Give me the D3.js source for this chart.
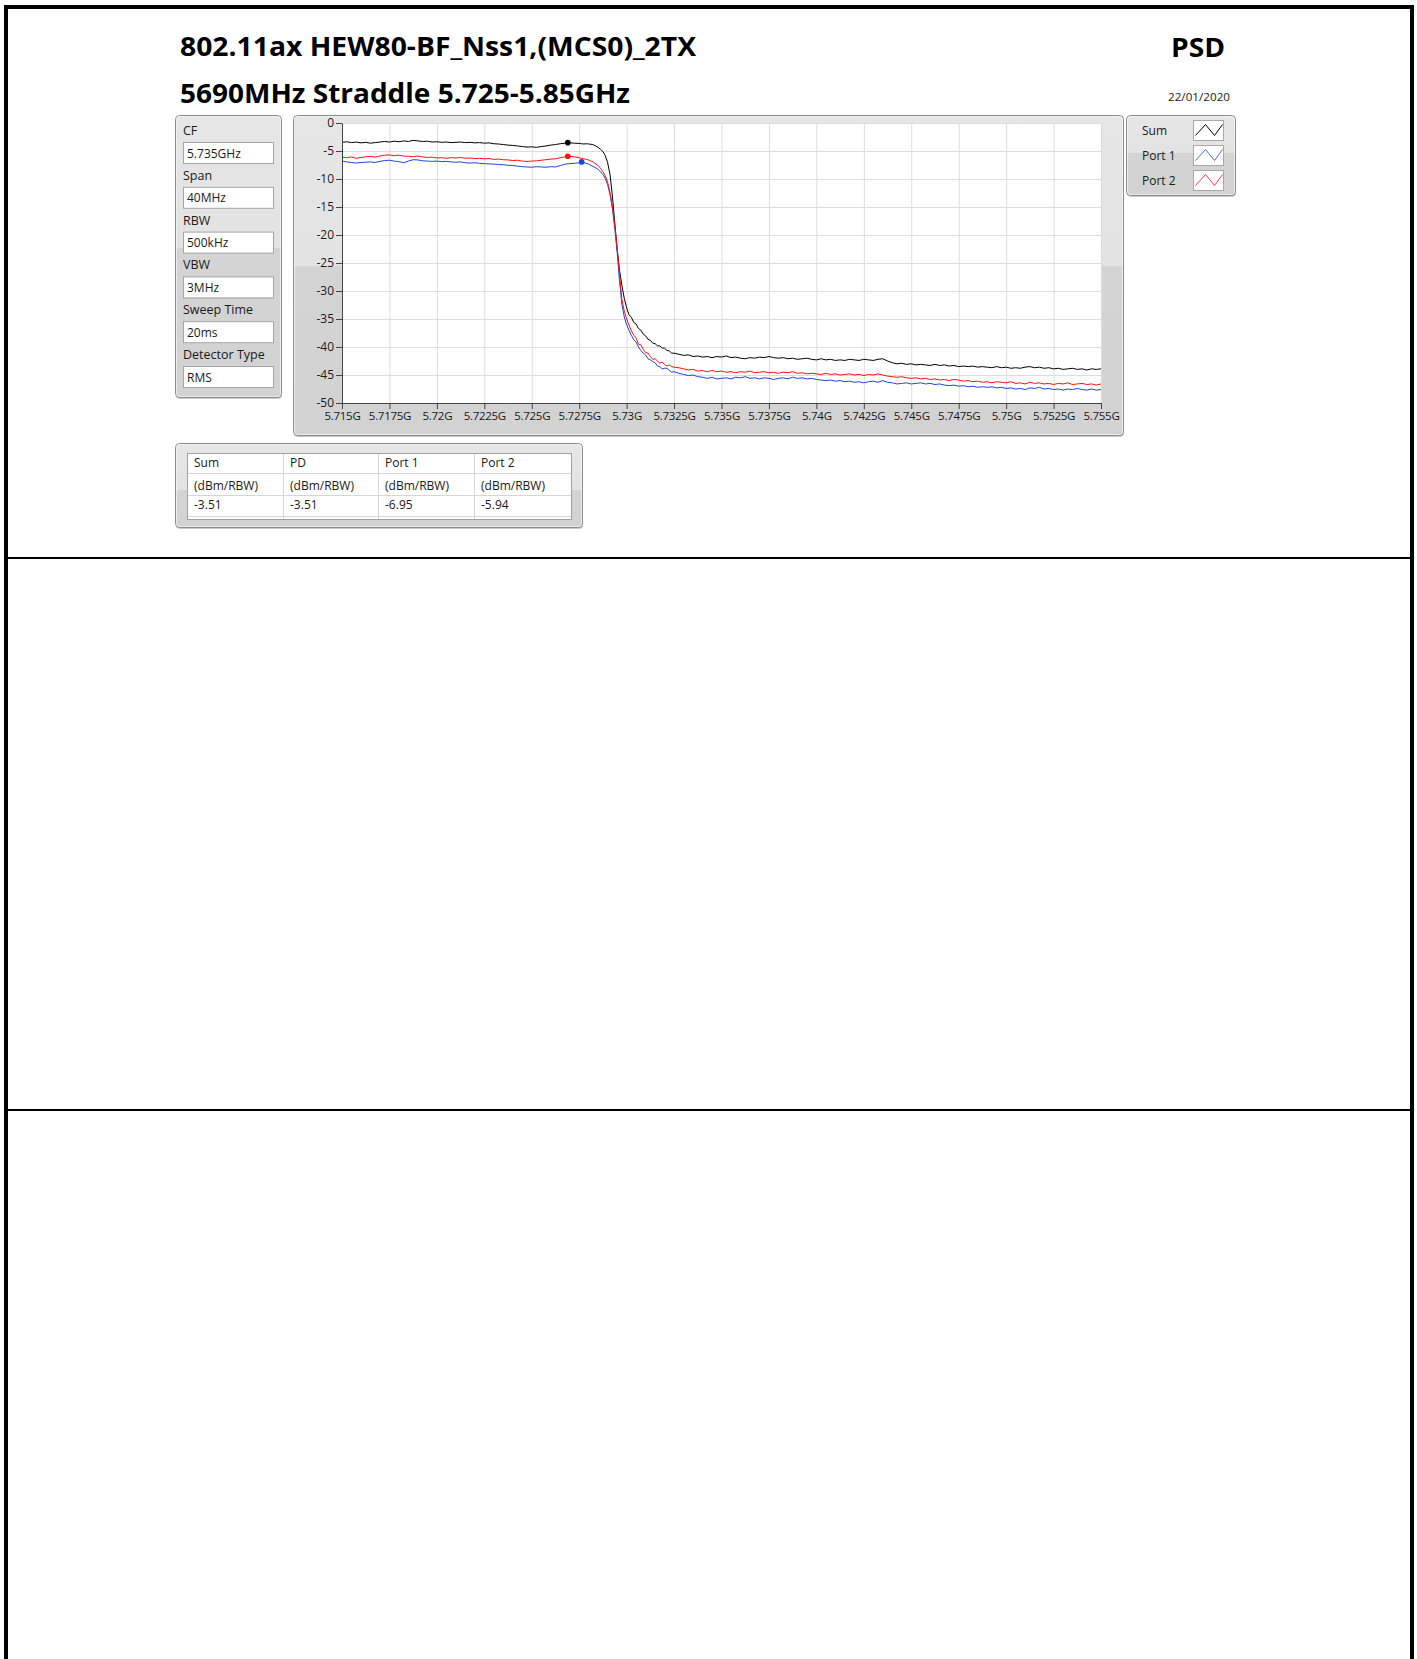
<!DOCTYPE html>
<html><head><meta charset="utf-8">
<script src="https://cdn.jsdelivr.net/npm/d3@7"></script>
<style>
body{margin:0;background:#fff;}
svg{display:block;font-family:"Open Sans","Noto Sans",sans-serif;}
</style>
</head><body>
<svg id="c" width="1417" height="1659"></svg>
<script>
// ---------------- DATA ----------------
const titleLine1 = "802.11ax HEW80-BF_Nss1,(MCS0)_2TX";
const titleLine2 = "5690MHz Straddle 5.725-5.85GHz";
const titleRight = "PSD";
const dateText = "22/01/2020";

const settingLabels = ["CF", "Span", "RBW", "VBW", "Sweep Time", "Detector Type"];
const settingValues = ["5.735GHz", "40MHz", "500kHz", "3MHz", "20ms", "RMS"];

const legendNames = ["Sum", "Port 1", "Port 2"];

const tableHeaders = ["Sum", "PD", "Port 1", "Port 2"];
const tableUnits = ["(dBm/RBW)", "(dBm/RBW)", "(dBm/RBW)", "(dBm/RBW)"];
const tableValues = ["-3.51", "-3.51", "-6.95", "-5.94"];

const startFreqMHz = 5715;
const xTickOffsetsMHz = [0, 2.5, 5, 7.5, 10, 12.5, 15, 17.5, 20, 22.5, 25, 27.5, 30, 32.5, 35, 37.5, 40];
const xTickLabels = ["5.715G", "5.7175G", "5.72G", "5.7225G", "5.725G", "5.7275G", "5.73G", "5.7325G", "5.735G",
  "5.7375G", "5.74G", "5.7425G", "5.745G", "5.7475G", "5.75G", "5.7525G", "5.755G"];
const yTicks = [0, -5, -10, -15, -20, -25, -30, -35, -40, -45, -50];
const yTickLabels = ["0", "-5", "-10", "-15", "-20", "-25", "-30", "-35", "-40", "-45", "-50"];

// frequency offsets (MHz from 5.715 GHz) of the read-off trace samples
const freqOffsetMHz = [
  0,0.25,0.5,0.75,1,1.25,1.5,1.75,2,2.25,2.5,2.75,3,3.25,3.5,3.75,4,4.25,4.5,4.75,
  5,5.25,5.5,5.75,6,6.25,6.5,6.75,7,7.25,7.5,7.75,8,8.25,8.5,8.75,9,9.25,9.5,9.75,
  10,10.25,10.5,10.75,11,11.25,11.5,11.75,12,12.25,12.5,
  12.625,12.75,12.875,13,13.125,13.25,13.375,13.5,13.625,13.75,
  13.875,14,14.125,14.25,14.375,14.5,14.625,14.75,14.875,15,
  15.125,15.25,15.375,15.5,15.625,15.75,15.875,16,16.125,16.25,
  16.375,16.5,16.625,16.75,16.875,17,17.125,17.25,17.375,17.5,
  17.75,18,18.25,18.5,18.75,19,19.25,19.5,19.75,20,
  20.25,20.5,20.75,21,21.25,21.5,21.75,22,22.25,22.5,
  22.75,23,23.25,23.5,23.75,24,24.25,24.5,24.75,25,
  25.25,25.5,25.75,26,26.25,26.5,26.75,27,27.25,27.5,
  27.75,28,28.25,28.5,28.75,29,29.25,29.5,29.75,30,
  30.25,30.5,30.75,31,31.25,31.5,31.75,32,32.25,32.5,
  32.75,33,33.25,33.5,33.75,34,34.25,34.5,34.75,35,
  35.25,35.5,35.75,36,36.25,36.5,36.75,37,37.25,37.5,
  37.75,38,38.25,38.5,38.75,39,39.25,39.5,39.75,40
];

const sumDb = [
  -3.45,-3.35,-3.5,-3.4,-3.55,-3.45,-3.6,-3.5,-3.4,-3.3,
  -3.4,-3.25,-3.35,-3.2,-3.3,-3.1,-3.2,-3.3,-3.25,-3.4,
  -3.35,-3.45,-3.4,-3.5,-3.45,-3.4,-3.5,-3.45,-3.55,-3.5,
  -3.6,-3.55,-3.7,-3.75,-3.85,-3.95,-4.0,-4.1,-4.2,-4.3,
  -4.25,-4.35,-4.2,-4.1,-3.95,-3.85,-3.7,-3.6,-3.55,-3.6,-3.65,
  -3.7,-3.75,-3.7,-3.75,-3.8,-3.9,-4.1,-4.35,-4.7,-5.1,
  -5.8,-7.1,-9.2,-13.0,-17.8,-22.5,-26.3,-29.0,-31.3,-33.0,
  -34.2,-34.7,-35.6,-35.9,-36.7,-37.0,-37.7,-38.0,-38.6,-38.8,
  -39.3,-39.4,-39.8,-39.8,-40.2,-40.2,-40.6,-40.7,-41.1,-41.1,
  -41.3,-41.5,-41.4,-41.7,-41.6,-41.8,-41.7,-41.9,-41.7,-41.8,
  -41.6,-41.9,-41.8,-42.0,-42.1,-41.9,-42.0,-41.8,-41.9,-41.7,
  -41.9,-42.0,-41.9,-42.1,-42.0,-42.2,-42.1,-42.0,-42.2,-42.3,
  -42.1,-42.3,-42.2,-42.4,-42.3,-42.4,-42.2,-42.3,-42.4,-42.2,
  -42.3,-42.4,-42.2,-42.1,-42.5,-42.8,-43.0,-42.9,-43.1,-43.0,
  -43.2,-43.1,-43.2,-43.3,-43.1,-43.3,-43.2,-43.4,-43.3,-43.5,
  -43.4,-43.5,-43.4,-43.6,-43.5,-43.6,-43.7,-43.5,-43.7,-43.6,
  -43.8,-43.7,-43.8,-43.6,-43.5,-43.7,-43.6,-43.8,-43.7,-43.9,
  -43.8,-44.0,-43.9,-43.8,-44.0,-43.9,-44.1,-43.9,-44.0,-43.9
];

const port1Db = [
  -6.8,-6.95,-7.05,-7.15,-7.05,-7.0,-6.95,-7.05,-6.85,-6.7,
  -6.65,-6.8,-6.9,-7.1,-6.8,-6.55,-6.6,-6.75,-6.8,-6.85,
  -6.8,-6.9,-6.85,-6.95,-7.0,-6.95,-7.1,-7.15,-7.1,-7.2,
  -7.25,-7.3,-7.35,-7.4,-7.45,-7.55,-7.6,-7.7,-7.8,-7.85,
  -7.9,-7.8,-7.85,-7.9,-7.8,-7.85,-7.6,-7.35,-7.25,-7.2,-7.1,
  -7.0,-7.1,-7.2,-7.35,-7.6,-7.8,-8.0,-8.3,-8.7,-9.2,
  -9.9,-11.0,-12.8,-15.3,-18.9,-23.0,-28.2,-32.4,-34.6,-36.0,
  -37.0,-37.9,-38.7,-39.1,-40.0,-40.6,-41.1,-41.4,-42.1,-42.3,
  -42.6,-42.8,-43.4,-43.5,-43.9,-43.8,-43.8,-44.2,-44.5,-44.4,
  -44.7,-44.9,-45.1,-45.0,-45.3,-45.4,-45.6,-45.4,-45.7,-45.6,
  -45.5,-45.7,-45.4,-45.5,-45.3,-45.6,-45.5,-45.7,-45.5,-45.6,
  -45.8,-45.6,-45.5,-45.7,-45.4,-45.6,-45.5,-45.7,-45.6,-45.8,
  -45.9,-46.0,-45.9,-46.1,-46.0,-46.2,-46.1,-46.3,-46.2,-46.4,
  -46.2,-46.1,-46.3,-46.0,-46.3,-46.4,-46.6,-46.5,-46.4,-46.6,
  -46.5,-46.4,-46.6,-46.5,-46.7,-46.6,-46.8,-46.9,-46.8,-47.0,
  -46.9,-47.1,-47.0,-47.2,-47.1,-47.2,-47.1,-47.3,-47.2,-47.4,
  -47.3,-47.5,-47.4,-47.6,-47.3,-47.4,-47.2,-47.5,-47.4,-47.6,
  -47.5,-47.7,-47.5,-47.6,-47.4,-47.6,-47.7,-47.5,-47.7,-47.6
];

const port2Db = [
  -6.1,-6.2,-6.05,-6.3,-6.15,-6.05,-5.95,-6.1,-5.9,-5.75,
  -5.7,-5.85,-5.75,-5.9,-5.95,-6.0,-5.9,-6.05,-6.15,-6.1,
  -6.25,-6.2,-6.3,-6.2,-6.25,-6.15,-6.3,-6.25,-6.35,-6.3,
  -6.4,-6.35,-6.5,-6.45,-6.55,-6.6,-6.7,-6.65,-6.8,-6.85,
  -6.8,-6.75,-6.65,-6.55,-6.45,-6.4,-6.2,-6.05,-5.95,-6.05,-6.2,
  -6.3,-6.4,-6.5,-6.6,-6.8,-7.0,-7.3,-7.6,-8.1,-8.7,
  -9.4,-10.6,-12.4,-14.8,-18.3,-22.2,-27.0,-31.5,-33.6,-35.0,
  -36.1,-37.1,-37.9,-38.4,-39.5,-39.6,-40.4,-41.0,-41.1,-41.7,
  -42.2,-42.1,-42.5,-42.9,-42.7,-43.1,-43.4,-43.2,-43.5,-43.6,
  -43.7,-43.9,-44.1,-44.0,-44.3,-44.2,-44.4,-44.2,-44.4,-44.3,
  -44.5,-44.4,-44.6,-44.4,-44.5,-44.3,-44.6,-44.5,-44.4,-44.6,
  -44.5,-44.7,-44.5,-44.6,-44.4,-44.7,-44.6,-44.8,-44.7,-44.8,
  -44.9,-44.7,-44.9,-44.8,-45.0,-44.9,-44.8,-45.0,-44.9,-45.1,
  -44.9,-45.0,-44.8,-45.0,-45.2,-45.3,-45.4,-45.3,-45.5,-45.6,
  -45.5,-45.7,-45.6,-45.8,-45.7,-45.9,-45.8,-46.0,-45.8,-45.9,
  -46.1,-46.0,-46.2,-46.1,-46.3,-46.2,-46.4,-46.2,-46.3,-46.4,
  -46.2,-46.5,-46.4,-46.6,-46.3,-46.5,-46.4,-46.6,-46.5,-46.7,
  -46.5,-46.6,-46.4,-46.7,-46.6,-46.5,-46.7,-46.6,-46.8,-46.6
];

// peak markers: Sum, Port 1, Port 2
const markerFreqOffsetMHz = [11.9, 12.63, 11.9];
const markerDb = [-3.51, -6.95, -5.94];

// ---------------- DRAWING ----------------
const seriesColors = ["#000000", "#1f45dc", "#ff1010"];
const legendColors = ["#000000", "#3f6fe6", "#ff3a3a"];
const svg = d3.select("#c");
const defs = svg.append("defs");
const TXT = "#1a1a1a";
const FONT = '"Open Sans","Noto Sans",sans-serif';

function panel(x, y, w, h, split, id) {
  const gr = defs.append("linearGradient").attr("id", id).attr("x1", 0).attr("y1", 0).attr("x2", 0).attr("y2", 1);
  gr.append("stop").attr("offset", 0).attr("stop-color", "#e6e6e6");
  gr.append("stop").attr("offset", split).attr("stop-color", "#e3e3e3");
  gr.append("stop").attr("offset", split).attr("stop-color", "#d4d4d4");
  gr.append("stop").attr("offset", 1).attr("stop-color", "#d2d2d2");
  svg.append("rect").attr("x", x + 1).attr("y", y + 2).attr("width", w).attr("height", h).attr("rx", 4)
    .attr("fill", "#c9c9c9");
  svg.append("rect").attr("x", x + 0.5).attr("y", y + 0.5).attr("width", w).attr("height", h).attr("rx", 4)
    .attr("fill", `url(#${id})`).attr("stroke", "#8c8c8c");
  svg.append("rect").attr("x", x + 1.5).attr("y", y + 1.5).attr("width", w - 2).attr("height", h - 2).attr("rx", 3)
    .attr("fill", "none").attr("stroke", "#f2f2f2").attr("stroke-opacity", 0.8);
}

// page frame
svg.append("rect").attr("x", 4).attr("y", 5).attr("width", 1410).attr("height", 4).attr("fill", "#000");
svg.append("rect").attr("x", 4).attr("y", 5).attr("width", 4).attr("height", 1654).attr("fill", "#000");
svg.append("rect").attr("x", 1410).attr("y", 5).attr("width", 4).attr("height", 1654).attr("fill", "#000");
svg.append("rect").attr("x", 8).attr("y", 557).attr("width", 1402).attr("height", 2).attr("fill", "#000");
svg.append("rect").attr("x", 8).attr("y", 1109).attr("width", 1402).attr("height", 2).attr("fill", "#000");

// titles
svg.append("text").attr("x", 180).attr("y", 56).attr("font-size", 26).attr("font-weight", 700)
  .attr("textLength", 516).attr("lengthAdjust", "spacingAndGlyphs").attr("fill", "#000").text(titleLine1);
svg.append("text").attr("x", 180).attr("y", 102.5).attr("font-size", 26).attr("font-weight", 700)
  .attr("textLength", 450).attr("lengthAdjust", "spacingAndGlyphs").attr("fill", "#000").text(titleLine2);
svg.append("text").attr("x", 1171).attr("y", 57).attr("font-size", 26).attr("font-weight", 700)
  .attr("textLength", 54).attr("lengthAdjust", "spacingAndGlyphs").attr("fill", "#000").text(titleRight);
svg.append("text").attr("x", 1168).attr("y", 101).attr("font-size", 11)
  .attr("textLength", 62).attr("lengthAdjust", "spacingAndGlyphs").attr("fill", TXT).text(dateText);

// settings panel
panel(175, 115, 106, 282, 0.47, "gSet");
settingLabels.forEach((lab, i) => {
  const y0 = 135 + i * 44.8;
  svg.append("text").attr("x", 183).attr("y", y0).attr("font-size", 12.5).attr("fill", TXT).text(lab);
  svg.append("rect").attr("x", 183.5).attr("y", y0 + 7.5).attr("width", 90).attr("height", 21)
    .attr("fill", "#fff").attr("stroke", "#a4a4a4");
  svg.append("text").attr("x", 187).attr("y", y0 + 22.5).attr("font-size", 12).attr("fill", TXT).text(settingValues[i]);
});

// chart panel
panel(293, 115, 830, 320, 0.47, "gChart");
const plotL = 342, plotR = 1101, plotT = 123, plotB = 403;
svg.append("rect").attr("x", plotL).attr("y", plotT).attr("width", plotR - plotL).attr("height", plotB - plotT).attr("fill", "#fff");

const x = d3.scaleLinear().domain([0, 40]).range([plotL, plotR]);
const y = d3.scaleLinear().domain([-50, 0]).range([plotB, plotT]);

// grid
svg.append("g").attr("transform", `translate(0,${plotB})`)
  .call(d3.axisBottom(x).tickValues(xTickOffsetsMHz).tickSize(-(plotB - plotT)).tickFormat(""))
  .call(g => { g.select(".domain").remove(); g.selectAll("line").attr("stroke", "#dcdcdc"); });
svg.append("g").attr("transform", `translate(${plotL},0)`)
  .call(d3.axisLeft(y).tickValues(yTicks).tickSize(-(plotR - plotL)).tickFormat(""))
  .call(g => { g.select(".domain").remove(); g.selectAll("line").attr("stroke", "#dcdcdc"); });

// traces
const clip = defs.append("clipPath").attr("id", "plotClip");
clip.append("rect").attr("x", plotL).attr("y", plotT).attr("width", plotR - plotL).attr("height", plotB - plotT);
const line = d3.line().x(d => x(d[0])).y(d => y(d[1]));
const series = [sumDb, port1Db, port2Db];
const gTr = svg.append("g").attr("clip-path", "url(#plotClip)");
series.forEach((vals, k) => {
  gTr.append("path").datum(freqOffsetMHz.map((f, i) => [f, vals[i]]))
    .attr("d", line).attr("fill", "none").attr("stroke", seriesColors[k]).attr("stroke-width", 1)
    .attr("stroke-linejoin", "round");
});
markerDb.forEach((v, k) => {
  gTr.append("circle").attr("cx", x(markerFreqOffsetMHz[k])).attr("cy", y(v)).attr("r", 2.8).attr("fill", seriesColors[k]);
});

// axes
const xAxis = svg.append("g").attr("transform", `translate(0,${plotB})`)
  .call(d3.axisBottom(x).tickValues(xTickOffsetsMHz).tickFormat((d, i) => xTickLabels[i]).tickSize(6).tickSizeOuter(0).tickPadding(3));
xAxis.select(".domain").attr("stroke", "#444");
xAxis.selectAll("line").attr("stroke", "#444");
xAxis.selectAll("text").attr("font-size", 11.5).attr("fill", TXT).attr("font-family", FONT)
  .attr("letter-spacing", -0.3);
const yAxis = svg.append("g").attr("transform", `translate(${plotL},0)`)
  .call(d3.axisLeft(y).tickValues(yTicks).tickFormat((d, i) => yTickLabels[i]).tickSize(6).tickSizeOuter(0).tickPadding(2));
yAxis.select(".domain").attr("stroke", "#444");
yAxis.selectAll("line").attr("stroke", "#444");
yAxis.selectAll("text").attr("font-size", 12).attr("fill", TXT).attr("font-family", FONT);

// legend panel
panel(1126, 115, 109, 80, 0.47, "gLeg");
legendNames.forEach((nm, i) => {
  const by = 120 + i * 25;
  svg.append("text").attr("x", 1142).attr("y", 135 + i * 25).attr("font-size", 12).attr("fill", TXT).text(nm);
  svg.append("rect").attr("x", 1193.5).attr("y", by + 0.5).attr("width", 30).attr("height", 20)
    .attr("fill", "#fff").attr("stroke", "#a8a8a8");
  const pts = [[2, 15], [12, 4], [21, 15], [29, 4]].map(p => [1193.5 + p[0], by + 0.5 + p[1]]);
  svg.append("path").attr("d", d3.line()(pts)).attr("fill", "none").attr("stroke", legendColors[i]).attr("stroke-width", 1);
});

// table panel
panel(175, 443, 407, 84, 0.55, "gTab");
const colX = [187, 283, 378, 474, 571];
const rowY = [453, 473, 495, 516];
svg.append("rect").attr("x", colX[0] + 0.5).attr("y", rowY[0] + 0.5).attr("width", colX[4] - colX[0]).attr("height", rowY[3] - rowY[0] + 3)
  .attr("fill", "#fff").attr("stroke", "#a0a0a0");
rowY.slice(1).forEach(ry => svg.append("line").attr("x1", colX[0] + 1).attr("x2", colX[4]).attr("y1", ry + 0.5).attr("y2", ry + 0.5).attr("stroke", "#d6d6d6"));
colX.slice(1, 4).forEach(cx => svg.append("line").attr("x1", cx + 0.5).attr("x2", cx + 0.5).attr("y1", rowY[0] + 1).attr("y2", rowY[3] + 3).attr("stroke", "#d6d6d6"));
[tableHeaders, tableUnits, tableValues].forEach((row, r) => {
  row.forEach((t, c) => {
    svg.append("text").attr("x", colX[c] + 7).attr("y", [467, 489.5, 508.5][r]).attr("font-size", 12).attr("fill", TXT).text(t);
  });
});
</script>
</body></html>
